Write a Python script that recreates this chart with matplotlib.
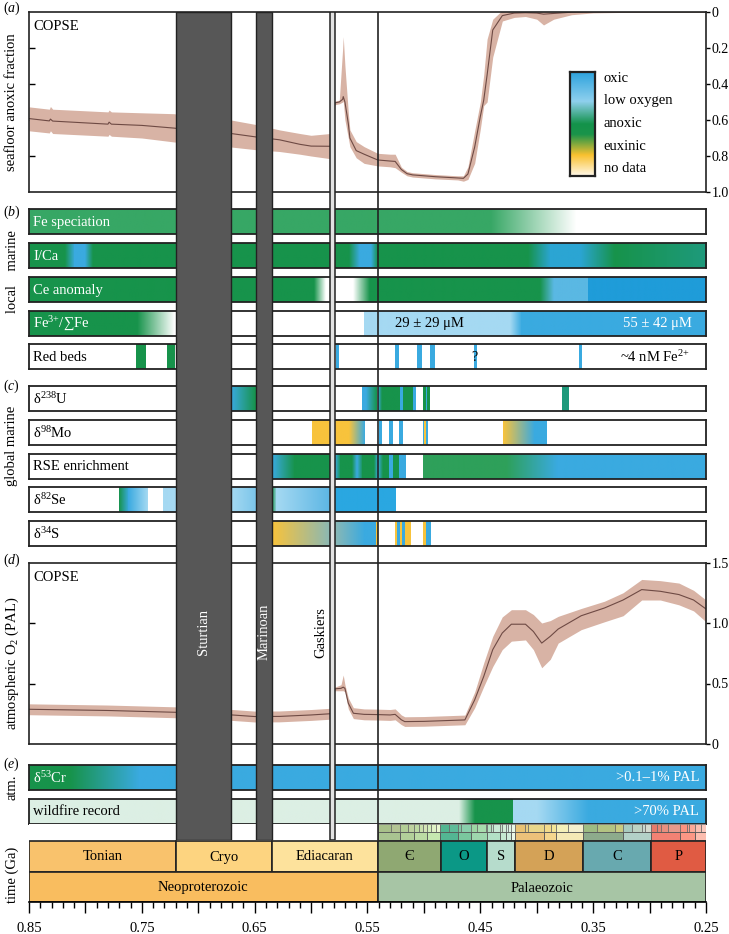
import numpy as np
import matplotlib
matplotlib.use('Agg')
import matplotlib.pyplot as plt
from matplotlib.colors import to_rgb
from matplotlib.ticker import MultipleLocator

plt.rcParams['font.family'] = ['Liberation Serif', 'DejaVu Serif']
plt.rcParams['mathtext.fontset'] = 'custom'
plt.rcParams['mathtext.rm'] = 'Liberation Serif'
plt.rcParams['mathtext.it'] = 'Liberation Serif:italic'
plt.rcParams['font.size'] = 10

W, H = 729, 934
X_OLD, X_YOUNG = 0.85, 0.25

# ---- colours of the redox key ----
OXIC = '#3aaae0'
LOWOX = '#a5d9f2'
ANOX = '#17934b'
EUX = '#f8c33c'
FESP = '#37a765'
WHITE = '#ffffff'
MINT = '#dcefe4'
TEAL = '#1e9a7c'
ICBLUE = '#2ba5d3'
MIDBLUE = '#5ab8e3'
DEEPBLUE = '#1f9cd9'
SEBLUE = '#2aa7e1'
GREEN2 = '#2ea05a'
GRAYTEAL = '#8ab8b5'

# ---- (a) COPSE seafloor anoxic fraction ----
t_a = [0.85, 0.832, 0.831, 0.829, 0.78, 0.779, 0.777, 0.75, 0.7215, 0.70, 0.671, 0.649,
       0.628, 0.61, 0.60, 0.583, 0.5805, 0.579, 0.575, 0.572, 0.5715, 0.570, 0.567, 0.5656,
       0.56, 0.553, 0.541, 0.53, 0.5255, 0.52, 0.515, 0.51, 0.49, 0.47, 0.465, 0.461, 0.455,
       0.45, 0.447, 0.444, 0.439, 0.4305, 0.42, 0.41, 0.40, 0.394, 0.385, 0.369, 0.35, 0.30, 0.25]
anox_mid = [0.592, 0.605, 0.595, 0.606, 0.623, 0.612, 0.623, 0.630, 0.645, 0.66, 0.675, 0.694,
            0.71, 0.735, 0.745, 0.746, 0.62, 0.505, 0.50, 0.485, 0.47, 0.5, 0.62, 0.70,
            0.77, 0.79, 0.822, 0.828, 0.83, 0.875, 0.898, 0.905, 0.915, 0.922, 0.924, 0.90, 0.75,
            0.58, 0.49, 0.35, 0.10, 0.02, 0.006, 0.004, 0.006, 0.012, 0.008, 0.001, 0.0, 0.0, 0.0]
anox_lo = [0.527, 0.54, 0.525, 0.54, 0.555, 0.545, 0.555, 0.56, 0.565, 0.585, 0.6, 0.625,
           0.655, 0.675, 0.685, 0.675, 0.6, 0.495, 0.49, 0.2, 0.137, 0.3, 0.56, 0.655,
           0.72, 0.748, 0.785, 0.79, 0.79, 0.862, 0.886, 0.893, 0.903, 0.91, 0.91, 0.86, 0.66,
           0.5, 0.35, 0.15, 0.04, -0.01, -0.02, -0.02, -0.02, -0.01, -0.02, -0.02, -0.02, -0.02, -0.02]
anox_hi = [0.66, 0.672, 0.66, 0.675, 0.69, 0.68, 0.69, 0.70, 0.722, 0.735, 0.75, 0.765,
           0.775, 0.79, 0.8, 0.815, 0.7, 0.515, 0.51, 0.5, 0.495, 0.6, 0.7, 0.748,
           0.81, 0.841, 0.855, 0.86, 0.865, 0.89, 0.91, 0.917, 0.927, 0.933, 0.94, 0.93, 0.84,
           0.65, 0.52, 0.5, 0.25, 0.05, 0.03, 0.025, 0.04, 0.072, 0.04, 0.015, 0.005, 0.0, 0.0]

# ---- (d) COPSE atmospheric O2 ----
t_d = [0.85, 0.78, 0.72, 0.67, 0.65, 0.628, 0.60, 0.583, 0.5805, 0.579, 0.5735, 0.5715, 0.570,
       0.567, 0.5625, 0.553, 0.541, 0.53, 0.5255, 0.52, 0.517, 0.50, 0.4637, 0.455, 0.447,
       0.439, 0.4306, 0.4225, 0.41, 0.403, 0.3956, 0.388, 0.381, 0.3606, 0.34, 0.3235, 0.307,
       0.2905, 0.274, 0.261, 0.25]
o2_mid = [0.287, 0.277, 0.262, 0.24, 0.227, 0.228, 0.24, 0.25, 0.35, 0.456, 0.46, 0.47, 0.46,
          0.337, 0.254, 0.245, 0.243, 0.24, 0.245, 0.20, 0.185, 0.187, 0.199, 0.365, 0.558,
          0.78, 0.917, 0.99, 0.99, 0.93, 0.834, 0.89, 0.95, 1.06, 1.124, 1.19, 1.276,
          1.262, 1.235, 1.19, 1.116]
o2_lo = [0.242, 0.232, 0.217, 0.195, 0.182, 0.183, 0.195, 0.205, 0.3, 0.44, 0.44, 0.44, 0.43,
         0.29, 0.21, 0.2, 0.198, 0.195, 0.2, 0.16, 0.145, 0.147, 0.159, 0.3, 0.475,
         0.64, 0.78, 0.85, 0.86, 0.78, 0.63, 0.7, 0.834, 0.945, 1.01, 1.06, 1.19,
         1.19, 1.15, 1.1, 1.01]
o2_hi = [0.332, 0.322, 0.307, 0.285, 0.272, 0.273, 0.285, 0.295, 0.4, 0.47, 0.49, 0.57, 0.49,
         0.38, 0.3, 0.29, 0.288, 0.285, 0.29, 0.24, 0.225, 0.227, 0.239, 0.43, 0.67,
         0.89, 1.05, 1.11, 1.11, 1.07, 1.0, 1.02, 1.055, 1.12, 1.18, 1.25, 1.36,
         1.35, 1.33, 1.27, 1.19]

# ---- proxy bars: (older Ga, younger Ga, colour at older end, colour at younger end) ----
fe_spec = [(0.85, 0.4415, FESP, FESP), (0.4415, 0.365, FESP, WHITE)]
i_ca = [(0.85, 0.818, ANOX, ANOX), (0.818, 0.81, ANOX, OXIC), (0.81, 0.80, OXIC, OXIC),
        (0.80, 0.793, OXIC, ANOX), (0.793, 0.566, ANOX, ANOX), (0.566, 0.557, ANOX, OXIC),
        (0.557, 0.547, OXIC, OXIC), (0.547, 0.541, OXIC, ANOX), (0.541, 0.4076, ANOX, ANOX),
        (0.4076, 0.388, ANOX, ICBLUE), (0.388, 0.3615, ICBLUE, ICBLUE),
        (0.3615, 0.331, ICBLUE, ANOX), (0.331, 0.25, ANOX, TEAL)]
ce_anom = [(0.85, 0.597, ANOX, ANOX), (0.597, 0.587, ANOX, WHITE), (0.5625, 0.548, WHITE, ANOX),
           (0.548, 0.397, ANOX, ANOX), (0.397, 0.385, ANOX, MIDBLUE),
           (0.385, 0.3545, MIDBLUE, MIDBLUE), (0.3545, 0.25, DEEPBLUE, DEEPBLUE)]
fe3 = [(0.85, 0.754, ANOX, ANOX), (0.754, 0.721, ANOX, WHITE), (0.553, 0.424, LOWOX, LOWOX),
       (0.424, 0.414, LOWOX, OXIC), (0.414, 0.25, OXIC, OXIC)]
red_beds = [(0.755, 0.747, ANOX, ANOX), (0.728, 0.721, ANOX, ANOX), (0.578, 0.576, OXIC, OXIC),
            (0.526, 0.523, OXIC, OXIC), (0.506, 0.502, OXIC, OXIC), (0.495, 0.491, OXIC, OXIC),
            (0.4555, 0.4535, OXIC, OXIC), (0.3625, 0.3600, OXIC, OXIC)]

u238 = [(0.671, 0.649, OXIC, ANOX), (0.555, 0.551, OXIC, OXIC), (0.551, 0.5415, OXIC, ANOX),
        (0.5405, 0.537, OXIC, ANOX), (0.537, 0.5215, ANOX, ANOX), (0.5215, 0.5185, OXIC, OXIC),
        (0.5185, 0.510, ANOX, ANOX), (0.510, 0.508, OXIC, OXIC), (0.501, 0.4985, ANOX, ANOX),
        (0.4985, 0.497, OXIC, OXIC), (0.497, 0.4947, ANOX, ANOX), (0.3775, 0.3715, TEAL, TEAL)]
mo98 = [(0.5995, 0.583, EUX, EUX), (0.579, 0.5665, EUX, EUX), (0.5665, 0.553, EUX, OXIC),
        (0.5396, 0.5373, OXIC, OXIC), (0.5307, 0.5278, OXIC, OXIC), (0.522, 0.519, OXIC, OXIC),
        (0.501, 0.4995, OXIC, OXIC), (0.4995, 0.4985, EUX, EUX), (0.4985, 0.4976, OXIC, OXIC),
        (0.4295, 0.402, EUX, OXIC), (0.402, 0.3905, OXIC, OXIC)]
rse = [(0.635, 0.6155, OXIC, ANOX), (0.6155, 0.583, ANOX, ANOX), (0.579, 0.5745, OXIC, ANOX),
       (0.5745, 0.5635, ANOX, ANOX), (0.5635, 0.5592, ANOX, OXIC), (0.5592, 0.5547, OXIC, ANOX),
       (0.5547, 0.544, ANOX, ANOX), (0.544, 0.5405, ANOX, OXIC), (0.5405, 0.5365, OXIC, ANOX),
       (0.5365, 0.5307, ANOX, ANOX), (0.5307, 0.5278, OXIC, OXIC), (0.5278, 0.5218, ANOX, ANOX),
       (0.5218, 0.5158, OXIC, OXIC), (0.5005, 0.427, GREEN2, GREEN2), (0.427, 0.381, GREEN2, OXIC),
       (0.381, 0.25, OXIC, OXIC)]
se82 = [(0.77, 0.762, ANOX, OXIC), (0.762, 0.7446, OXIC, LOWOX), (0.7315, 0.671, LOWOX, LOWOX),
        (0.671, 0.649, LOWOX, '#7cc6ea'), (0.635, 0.631, ANOX, LOWOX), (0.631, 0.583, LOWOX, '#5cb6e4'),
        (0.579, 0.5257, SEBLUE, SEBLUE)]
s34 = [(0.635, 0.583, EUX, GRAYTEAL), (0.579, 0.553, GRAYTEAL, OXIC), (0.553, 0.5425, OXIC, OXIC),
       (0.5425, 0.5415, EUX, EUX), (0.5257, 0.5235, EUX, EUX), (0.5235, 0.5215, OXIC, OXIC),
       (0.5215, 0.5195, EUX, EUX), (0.5195, 0.517, OXIC, OXIC), (0.517, 0.5124, EUX, EUX),
       (0.5005, 0.4985, EUX, EUX), (0.4985, 0.4947, OXIC, OXIC)]

cr53 = [(0.85, 0.814, ANOX, ANOX), (0.814, 0.752, ANOX, OXIC), (0.752, 0.25, OXIC, OXIC)]
wildfire = [(0.85, 0.469, MINT, MINT), (0.469, 0.455, MINT, ANOX), (0.455, 0.421, ANOX, ANOX),
            (0.421, 0.40, LOWOX, LOWOX), (0.40, 0.354, LOWOX, OXIC), (0.354, 0.25, OXIC, OXIC)]

# ---- glaciations ----
glac_names = ['Sturtian', 'Marinoan', 'Gaskiers']
glac_old = [0.720, 0.649, 0.583]
glac_young = [0.671, 0.635, 0.579]

# ---- time scale ----
period_names = ['Tonian', 'Cryo', 'Ediacaran', 'Є', 'O', 'S', 'D', 'C', 'P']
period_bounds = [0.85, 0.72, 0.635, 0.541, 0.485, 0.4438, 0.4192, 0.3589, 0.2989, 0.25]
period_colors = ['#f9c26c', '#fdd480', '#fde29c', '#8fa872', '#0b9886', '#b6dccc',
                 '#d4a257', '#68a9af', '#e05b43']
era_names = ['Neoproterozoic', 'Palaeozoic']
era_bounds = [0.85, 0.541, 0.25]
era_colors = ['#f9bd5f', '#a7c5a5']
epoch_bounds = [0.541, 0.521, 0.509, 0.497, 0.4854, 0.470, 0.4584, 0.4438, 0.433, 0.4274, 0.423,
                0.4192, 0.3933, 0.3827, 0.3589, 0.3232, 0.2989, 0.2731, 0.2598, 0.25]
epoch_colors = ['#8CB06C', '#99C078', '#A6CF86', '#B3E095', '#1A9D6F', '#4DB47E', '#7FCA93',
                '#99D7B3', '#B3E1C2', '#BFE6CF', '#E6F5E1', '#E5AC4D', '#F1C868', '#F1E19D',
                '#678F66', '#99C2B5', '#EF5845', '#FB745C', '#FBA794']
stage_bounds = [0.541, 0.529, 0.521, 0.514, 0.509, 0.5045, 0.5005, 0.497, 0.494, 0.4892, 0.4854,
                0.4774, 0.470, 0.467, 0.4584, 0.453, 0.4452, 0.4438, 0.4408, 0.4385, 0.433, 0.4305,
                0.4274, 0.4256, 0.423, 0.4192, 0.4108, 0.4076, 0.3933, 0.3877, 0.3827, 0.3722,
                0.3589, 0.3467, 0.3307, 0.3232, 0.3152, 0.307, 0.3037, 0.2989, 0.2935, 0.2901,
                0.2835, 0.2731, 0.2668, 0.2651, 0.2598, 0.2541, 0.25]
stage_colors = ['#99B575', '#A6BA80', '#A6C583', '#B3CA8E', '#B3D492', '#BFD99D', '#CCDFAA',
                '#CCEBAE', '#D9F0BB', '#E6F5C9',
                '#33A97E', '#41B087', '#66C092', '#74C69C', '#8CD094', '#99D69F', '#A6DBAB',
                '#A6DCB5', '#B3E1C2', '#BFE6CF', '#BFE6C3', '#CCEBD1', '#CCECDD', '#D9F0DF', '#E6F5E1',
                '#E5B75A', '#E5C468', '#E5D075', '#F1D576', '#F1E185', '#F2EDAD', '#F2EDC5',
                '#8CB06C', '#A6B96C', '#BFC26B', '#99C2B5', '#B3CBB9', '#BFD0C5', '#CCD4C7',
                '#E36350', '#E36F5C', '#E37B68', '#E38776', '#FB8069', '#FB8D76', '#FB9A85',
                '#FCB4A2', '#FCC0B2']
tick_major = [0.85, 0.80, 0.75, 0.70, 0.65, 0.60, 0.55, 0.50, 0.45, 0.40, 0.35, 0.30, 0.25]
tick_labels = ['0.85', '', '0.75', '', '0.65', '', '0.55', '', '0.45', '', '0.35', '', '0.25']

EDGE = '#222222'
BAND = '#d8b3a5'
LINE = '#6e4a44'


def lighten(c, f=0.2):
    return tuple((1 - f) * np.array(to_rgb(c)) + f)


fig = plt.figure(figsize=(W / 100, H / 100), dpi=100)


def px_axes(x0, y0, x1, y1):
    return fig.add_axes([x0 / W, 1 - y1 / H, (x1 - x0) / W, (y1 - y0) / H])


def style_frame(ax, lw=1.3):
    for s in ax.spines.values():
        s.set_linewidth(lw)
        s.set_color(EDGE)


def proxy_bar(top, segs, label, label_color='black', height=25.3):
    ax = px_axes(29, top, 706, top + height)
    for old, young, c0, c1 in segs:
        t = np.linspace(0, 1, 64)[:, None]
        rgb = (1 - t) * np.array(to_rgb(c0)) + t * np.array(to_rgb(c1))
        ax.imshow(rgb[None, :, :], extent=[old, young, 0, 1], aspect='auto',
                  interpolation='bilinear', zorder=1)
    ax.set_xlim(X_OLD, X_YOUNG)
    ax.set_ylim(0, 1)
    ax.set_xticks([])
    ax.set_yticks([])
    style_frame(ax)
    ax.text(0.006, 0.47, label, transform=ax.transAxes, va='center', ha='left',
            color=label_color, fontsize=10.5, zorder=3)
    return ax


def model_panel(top, bottom, t, mid, lo, hi):
    ax = px_axes(29, top, 706, bottom)
    ax.fill_between(t, lo, hi, color=BAND, lw=0, zorder=1)
    ax.plot(t, mid, color=LINE, lw=0.8, zorder=2)
    ax.set_xlim(X_OLD, X_YOUNG)
    ax.set_xticks([])
    ax.yaxis.tick_right()
    ax.tick_params(axis='y', direction='out', length=3, width=1, labelsize=10, pad=1)
    sec = ax.secondary_yaxis('left')
    sec.tick_params(direction='in', length=4, width=1, labelleft=False)
    sec.spines['left'].set_visible(False)
    style_frame(ax, 1.2)
    ax.text(0.006, 0.92, 'COPSE', transform=ax.transAxes, va='center', fontsize=10.5)
    return ax, sec


# (a)
ax_a, sec_a = model_panel(12, 192, t_a, anox_mid, anox_lo, anox_hi)
ax_a.set_ylim(1, 0)
ax_a.set_yticks([0, 0.2, 0.4, 0.6, 0.8, 1.0])
ax_a.set_yticklabels(['0', '0.2', '0.4', '0.6', '0.8', '1.0'])
sec_a.set_yticks([0.2, 0.4, 0.6, 0.8])

# legend key
ax_k = px_axes(570, 72, 595, 176)
key_pos = [0.0, 0.28, 0.5, 0.6, 0.8, 1.0]
key_cols = ['#2ea3dd', '#8fd0ee', '#13924a', '#1a944a', '#f9c12f', '#fff8ea']
kt = np.linspace(0, 1, 200)
key_rgb = np.stack([np.interp(kt, key_pos, [to_rgb(c)[i] for c in key_cols]) for i in range(3)], axis=1)
ax_k.imshow(key_rgb[:, None, :], aspect='auto', extent=[0, 1, 1, 0])
ax_k.set_xticks([])
ax_k.set_yticks([])
style_frame(ax_k, 1.6)
for yy, lab in zip(np.linspace(0.94, 0.07, 5), ['oxic', 'low oxygen', 'anoxic', 'euxinic', 'no data']):
    ax_k.text(1.35, yy, lab, transform=ax_k.transAxes, va='center', ha='left', fontsize=10.5)

# (b) local marine
proxy_bar(209, fe_spec, 'Fe speciation', 'white')
proxy_bar(243, i_ca, 'I/Ca', 'white')
proxy_bar(277, ce_anom, 'Ce anomaly', 'white')
ax_fe3 = proxy_bar(310.5, fe3, r'Fe$^{3{+}}$/∑Fe', 'white')
ax_fe3.text(0.495, 0.47, '29 ± 29 μM', va='center', ha='center', fontsize=10.5)
ax_fe3.text(0.293, 0.47, '55 ± 42 μM', va='center', ha='center', color='white', fontsize=10.5)
ax_rb = proxy_bar(344, red_beds, 'Red beds')
ax_rb.text(0.455, 0.47, '?', va='center', ha='center', fontsize=10)
ax_rb.text(0.976, 0.5, r'~4 nM Fe$^{2{+}}$', transform=ax_rb.transAxes, va='center', ha='right',
           fontsize=10.5)

# (c) global marine
proxy_bar(386, u238, r'δ$^{238}$U')
proxy_bar(420, mo98, r'δ$^{98}$Mo')
proxy_bar(453.5, rse, 'RSE enrichment')
proxy_bar(487, se82, r'δ$^{82}$Se')
proxy_bar(520.7, s34, r'δ$^{34}$S')

# (d)
ax_d, sec_d = model_panel(562.5, 744, t_d, o2_mid, o2_lo, o2_hi)
ax_d.set_ylim(0, 1.5)
ax_d.set_yticks([0, 0.5, 1.0, 1.5])
ax_d.set_yticklabels(['0', '0.5', '1.0', '1.5'])
sec_d.set_yticks([0.5, 1.0])

# (e) atmosphere
ax_cr = proxy_bar(764.5, cr53, r'δ$^{53}$Cr', 'white')
ax_cr.text(0.99, 0.47, '>0.1–1% PAL', transform=ax_cr.transAxes, va='center', ha='right',
           color='white', fontsize=10.5)
ax_wf = proxy_bar(798.5, wildfire, 'wildfire record')
ax_wf.text(0.99, 0.47, '>70% PAL', transform=ax_wf.transAxes, va='center', ha='right',
           color='white', fontsize=10.5)

# time scale
ax_t = px_axes(29, 824, 706, 902.3)
ax_t.barh(4, np.diff(stage_bounds), left=stage_bounds[:-1], height=8,
          color=[lighten(c, 0.15) for c in stage_colors], edgecolor='#666666', linewidth=0.5)
ax_t.barh(12, np.diff(epoch_bounds), left=epoch_bounds[:-1], height=8,
          color=[lighten(c, 0.25) for c in epoch_colors], edgecolor='#555555', linewidth=0.6)
ax_t.barh(32.2, np.diff(period_bounds), left=period_bounds[:-1], height=31,
          color=period_colors, edgecolor=EDGE, linewidth=1.2)
ax_t.barh(63.3, np.diff(era_bounds), left=era_bounds[:-1], height=30,
          color=era_colors, edgecolor=EDGE, linewidth=1.2)
for i, name in enumerate(period_names):
    ax_t.text((period_bounds[i] + period_bounds[i + 1]) / 2, 33, name, ha='center', va='center',
              fontsize=10.5)
for i, name in enumerate(era_names):
    ax_t.text((era_bounds[i] + era_bounds[i + 1]) / 2, 64, name, ha='center', va='center',
              fontsize=10.5)
ax_t.set_xlim(X_OLD, X_YOUNG)
ax_t.set_ylim(78.3, 0)
for s in ['top', 'left', 'right']:
    ax_t.spines[s].set_visible(False)
ax_t.spines['bottom'].set_linewidth(1.2)
ax_t.set_yticks([])
ax_t.set_xticks(tick_major)
ax_t.set_xticklabels(tick_labels)
ax_t.xaxis.set_minor_locator(MultipleLocator(0.01))
ax_t.tick_params(axis='x', which='major', length=8, width=1, labelsize=10.5, pad=6)
ax_t.tick_params(axis='x', which='minor', length=4, width=1)

# glaciations overlay
ov = px_axes(29, 12, 706, 840)
ov.set_xlim(X_OLD, X_YOUNG)
ov.set_ylim(0, 1)
ov.axis('off')
for name, old, young in zip(glac_names, glac_old, glac_young):
    if name == 'Gaskiers':
        ov.axvspan(old, young, facecolor='#e2e2e2', edgecolor=EDGE, lw=1.1)
        ov.text(old + 0.008, 0.251, name, rotation=90, ha='center', va='center', fontsize=10.5)
    else:
        ov.axvspan(old, young, facecolor='#575757', edgecolor=EDGE, lw=1.0)
        ov.text((old + young) / 2, 0.251, name, rotation=90, ha='center', va='center',
                color='white', fontsize=10.5)
ov.axvline(0.541, color=EDGE, lw=1.2)

# side labels
side = [('seafloor anoxic fraction', 102), ('local    marine', 272), ('global marine', 446),
        (r'atmospheric O$_2$ (PAL)', 663), ('atm.', 787), ('time (Ga)', 875)]
for txt, yc in side:
    fig.text(12 / W, 1 - yc / H, txt, rotation=90, ha='center', va='center', fontsize=10.5)
for lab, yc in [('a', 8), ('b', 212), ('c', 386), ('d', 560), ('e', 764)]:
    fig.text(3 / W, 1 - yc / H, r'($\mathit{' + lab + '}$)', ha='left', va='center', fontsize=10)

fig.savefig('out.png', dpi=100)
